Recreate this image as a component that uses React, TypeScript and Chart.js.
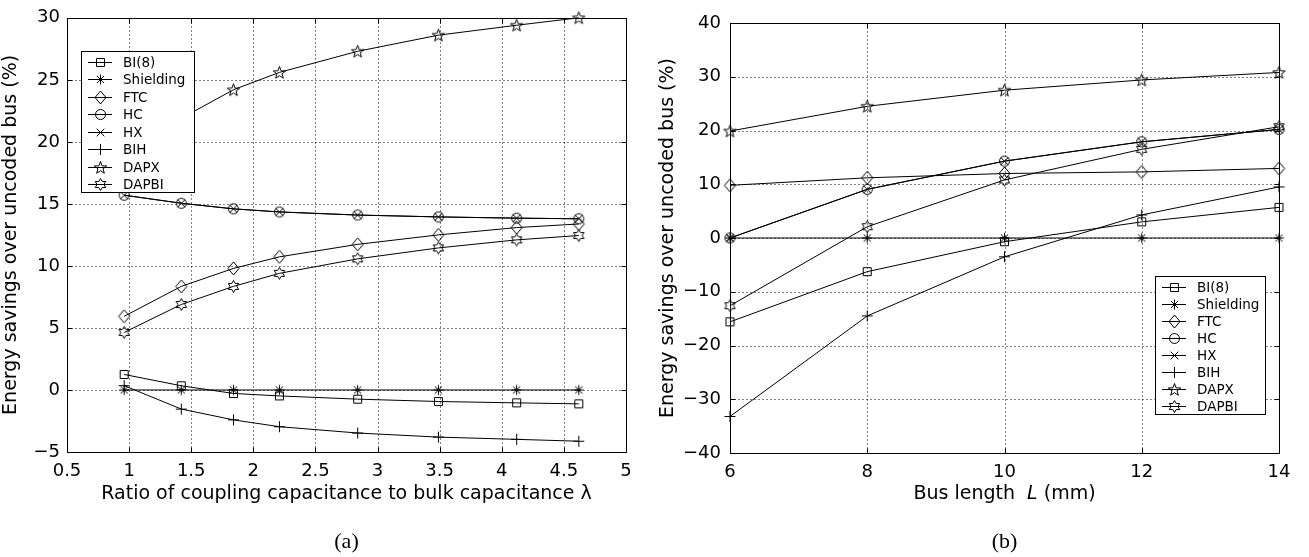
import React, { useEffect, useRef } from 'react';
import { Chart, registerables } from 'chart.js';

Chart.register(...registerables);

// ---------- DATA ----------
// (a) energy savings vs. coupling ratio lambda
const lambdaX = [0.96, 1.42, 1.84, 2.21, 2.84, 3.49, 4.12, 4.62];
const aBI8 = [1.25, 0.34, -0.28, -0.48, -0.74, -0.93, -1.04, -1.12];
const aShielding = [0, 0, 0, 0, 0, 0, 0, 0];
const aFTC = [5.94, 8.35, 9.8, 10.73, 11.74, 12.5, 13.09, 13.38];
const aHC = [15.7, 15.05, 14.6, 14.35, 14.1, 13.95, 13.85, 13.8];
const aHX = [15.7, 15.05, 14.6, 14.35, 14.1, 13.95, 13.85, 13.8];
const aBIH = [0.35, -1.54, -2.41, -2.96, -3.47, -3.8, -3.98, -4.13];
const aDAPX = [17.5, 21.9, 24.2, 25.6, 27.3, 28.6, 29.4, 30.0];
const aDAPBI = [4.64, 6.89, 8.35, 9.4, 10.57, 11.45, 12.1, 12.45];
const aXTicks = [0.5, 1, 1.5, 2, 2.5, 3, 3.5, 4, 4.5, 5];
const aYTicks = [-5, 0, 5, 10, 15, 20, 25, 30];

// (b) energy savings vs. bus length L
const busL = [6, 8, 10, 12, 14];
const bBI8 = [-15.6, -6.26, -0.69, 3.0, 5.7];
const bShielding = [0, 0, 0, 0, 0];
const bFTC = [9.8, 11.2, 12.0, 12.3, 12.95];
const bHC = [0, 9.05, 14.3, 17.9, 20.2];
const bHX = [0, 9.05, 14.3, 17.9, 20.2];
const bBIH = [-33.2, -14.5, -3.5, 4.3, 9.5];
const bDAPX = [19.9, 24.5, 27.5, 29.4, 30.8];
const bDAPBI = [-12.6, 2.1, 10.8, 16.5, 20.7];
const bXTicks = [6, 8, 10, 12, 14];
const bYTicks = [-40, -30, -20, -10, 0, 10, 20, 30, 40];

const seriesNames = ['BI(8)', 'Shielding', 'FTC', 'HC', 'HX', 'BIH', 'DAPX', 'DAPBI'];
const markerKinds = ['square', 'asterisk', 'diamond', 'circle', 'xmark', 'plus', 'pentagram', 'hexagram'];

const FONT = '"DejaVu Sans", "Liberation Sans", sans-serif';
const YTITLE = 'Energy savings over uncoded bus (%)';

// ---------- MARKERS ----------
function makeMarker(kind: string): HTMLCanvasElement {
  const s = 17;
  const c = document.createElement('canvas');
  c.width = s;
  c.height = s;
  const ctx = c.getContext('2d')!;
  ctx.strokeStyle = '#000';
  ctx.lineWidth = 1;
  const m = s / 2;
  ctx.beginPath();
  switch (kind) {
    case 'square':
      ctx.rect(m - 4, m - 4, 8, 8);
      break;
    case 'asterisk':
      ctx.moveTo(m, m - 5); ctx.lineTo(m, m + 5);
      ctx.moveTo(m - 5, m); ctx.lineTo(m + 5, m);
      ctx.moveTo(m - 3.6, m - 3.6); ctx.lineTo(m + 3.6, m + 3.6);
      ctx.moveTo(m - 3.6, m + 3.6); ctx.lineTo(m + 3.6, m - 3.6);
      break;
    case 'diamond':
      ctx.moveTo(m, m - 6.5); ctx.lineTo(m + 5.5, m); ctx.lineTo(m, m + 6.5); ctx.lineTo(m - 5.5, m); ctx.closePath();
      break;
    case 'circle':
      ctx.arc(m, m, 5, 0, Math.PI * 2);
      break;
    case 'xmark':
      ctx.moveTo(m - 3.8, m - 3.8); ctx.lineTo(m + 3.8, m + 3.8);
      ctx.moveTo(m - 3.8, m + 3.8); ctx.lineTo(m + 3.8, m - 3.8);
      break;
    case 'plus':
      ctx.moveTo(m, m - 5.5); ctx.lineTo(m, m + 5.5);
      ctx.moveTo(m - 5.5, m); ctx.lineTo(m + 5.5, m);
      break;
    case 'pentagram': {
      const R = 6.5, r = 2.7;
      for (let i = 0; i < 10; i++) {
        const a = -Math.PI / 2 + (i * Math.PI) / 5;
        const rr = i % 2 === 0 ? R : r;
        const px = m + rr * Math.cos(a), py = m + 0.5 + rr * Math.sin(a);
        if (i === 0) ctx.moveTo(px, py); else ctx.lineTo(px, py);
      }
      ctx.closePath();
      break;
    }
    case 'hexagram': {
      const R = 6, r = 6 / Math.sqrt(3);
      for (let i = 0; i < 12; i++) {
        const a = -Math.PI / 2 + (i * Math.PI) / 6;
        const rr = i % 2 === 0 ? R : r;
        const px = m + rr * Math.cos(a), py = m + rr * Math.sin(a);
        if (i === 0) ctx.moveTo(px, py); else ctx.lineTo(px, py);
      }
      ctx.closePath();
      break;
    }
  }
  ctx.stroke();
  return c;
}

const fmt = (v: number) => String(v).replace('-', '\u2212');

// ---------- PLUGIN ----------
const paperPlugin = {
  id: 'paper',
  beforeDatasetsDraw(chart: any, _args: any, opts: any) {
    const { ctx, chartArea } = chart;
    const L = Math.round(chartArea.left) + 0.5;
    const R = Math.round(chartArea.right) + 0.5;
    const T = Math.round(chartArea.top) + 0.5;
    const B = Math.round(chartArea.bottom) + 0.5;
    const xs = chart.scales.x;
    const ys = chart.scales.y;
    ctx.save();
    ctx.strokeStyle = '#000';
    ctx.lineWidth = 1;
    // dotted grid
    ctx.setLineDash([1, 3]);
    ctx.beginPath();
    for (const t of xs.ticks) {
      const px = Math.round(xs.getPixelForValue(t.value)) + 0.5;
      if (px <= L + 1 || px >= R - 1) continue;
      ctx.moveTo(px, T); ctx.lineTo(px, B);
    }
    for (const t of ys.ticks) {
      const py = Math.round(ys.getPixelForValue(t.value)) + 0.5;
      if (py <= T + 1 || py >= B - 1) continue;
      ctx.moveTo(L, py); ctx.lineTo(R, py);
    }
    ctx.stroke();
    ctx.setLineDash([]);
    // inner ticks
    ctx.beginPath();
    const tl = 5;
    for (const t of xs.ticks) {
      const px = Math.round(xs.getPixelForValue(t.value)) + 0.5;
      ctx.moveTo(px, B); ctx.lineTo(px, B - tl);
      ctx.moveTo(px, T); ctx.lineTo(px, T + tl);
    }
    for (const t of ys.ticks) {
      const py = Math.round(ys.getPixelForValue(t.value)) + 0.5;
      ctx.moveTo(L, py); ctx.lineTo(L + tl, py);
      ctx.moveTo(R, py); ctx.lineTo(R - tl, py);
    }
    ctx.stroke();
    ctx.strokeRect(L, T, R - L, B - T);
    ctx.restore();
  },
  afterDraw(chart: any, _args: any, opts: any) {
    const { ctx, chartArea } = chart;
    ctx.save();
    // legend
    const lg = opts.legend;
    ctx.fillStyle = '#fff';
    ctx.fillRect(lg.x, lg.y, lg.w, lg.h);
    ctx.strokeStyle = '#000';
    ctx.lineWidth = 1;
    ctx.strokeRect(lg.x + 0.5, lg.y + 0.5, lg.w, lg.h);
    ctx.font = `13.5px ${FONT}`;
    ctx.fillStyle = '#000';
    ctx.textAlign = 'left';
    ctx.textBaseline = 'middle';
    seriesNames.forEach((name, i) => {
      const cy = Math.round(lg.y + lg.first + i * lg.step) + 0.5;
      ctx.beginPath();
      ctx.moveTo(lg.x + 7, cy);
      ctx.lineTo(lg.x + 31, cy);
      ctx.stroke();
      const mk = opts.markers[i];
      ctx.drawImage(mk, lg.x + 19.5 - mk.width / 2, cy - mk.height / 2);
      ctx.fillText(name, lg.x + 42, cy + 0.5);
    });
    // x axis title
    const cx = (chartArea.left + chartArea.right) / 2;
    ctx.textBaseline = 'middle';
    const parts: { t: string; italic?: boolean }[] = opts.xTitle;
    const fontN = `19px ${FONT}`;
    const fontI = `italic 19px ${FONT}`;
    let total = 0;
    for (const p of parts) {
      ctx.font = p.italic ? fontI : fontN;
      total += ctx.measureText(p.t).width;
    }
    let x = cx - total / 2;
    ctx.textAlign = 'left';
    for (const p of parts) {
      ctx.font = p.italic ? fontI : fontN;
      ctx.fillText(p.t, x, opts.xTitleY);
      x += ctx.measureText(p.t).width;
    }
    // caption
    ctx.font = '22px "Liberation Serif", serif';
    ctx.textAlign = 'center';
    ctx.fillText(opts.caption, cx, opts.captionY);
    ctx.restore();
  },
};

function buildDatasets(xs: number[], series: number[][], markers: HTMLCanvasElement[]) {
  return series.map((ys, i) => ({
    label: seriesNames[i],
    data: xs.map((x, k) => ({ x, y: ys[k] })),
    borderColor: '#000',
    borderWidth: 1,
    pointStyle: markers[i],
    pointRadius: 5,
    pointHoverRadius: 5,
    tension: 0,
    fill: false,
    clip: false as any,
  }));
}

function makeConfig(p: {
  xs: number[]; series: number[][]; xTicks: number[]; yTicks: number[];
  xMin: number; xMax: number; yMin: number; yMax: number;
  padding: any; yWidth: number; xHeight: number; yTitlePad: number; yTickPad: number;
  legend: any; xTitle: any; caption: string;
}) {
  const markers = markerKinds.map(makeMarker);
  return {
    type: 'line' as const,
    data: { datasets: buildDatasets(p.xs, p.series, markers) },
    plugins: [paperPlugin],
    options: {
      animation: false as const,
      responsive: false,
      maintainAspectRatio: false,
      layout: { padding: p.padding },
      plugins: {
        legend: { display: false },
        tooltip: { enabled: false },
        paper: { legend: p.legend, markers, xTitle: p.xTitle, xTitleY: 494, caption: p.caption, captionY: 542 },
      },
      scales: {
        x: {
          type: 'linear' as const,
          min: p.xMin,
          max: p.xMax,
          grid: { display: false, drawTicks: false },
          border: { display: false },
          afterBuildTicks: (s: any) => { s.ticks = p.xTicks.map((v) => ({ value: v })); },
          afterFit: (s: any) => { s.height = p.xHeight; },
          ticks: {
            autoSkip: false,
            maxRotation: 0,
            padding: 9,
            color: '#000',
            font: { family: FONT, size: 18 },
            callback: (v: any) => fmt(Number(v)),
          },
        },
        y: {
          type: 'linear' as const,
          min: p.yMin,
          max: p.yMax,
          grid: { display: false, drawTicks: false },
          border: { display: false },
          afterBuildTicks: (s: any) => { s.ticks = p.yTicks.map((v) => ({ value: v })); },
          afterFit: (s: any) => { s.width = p.yWidth; },
          ticks: {
            autoSkip: false,
            padding: p.yTickPad,
            color: '#000',
            font: { family: FONT, size: 18 },
            callback: (v: any) => fmt(Number(v)),
          },
          title: {
            display: true,
            text: YTITLE,
            color: '#000',
            font: { family: FONT, size: 19 },
            padding: { top: p.yTitlePad, bottom: 0 },
          },
        },
      },
    },
  };
}

function ChartCanvas({ config, width, height, left }: { config: () => any; width: number; height: number; left: number }) {
  const ref = useRef<HTMLCanvasElement | null>(null);
  useEffect(() => {
    if (!ref.current) return;
    const chart = new Chart(ref.current, config());
    return () => chart.destroy();
  }, []);
  return (
    <canvas
      ref={ref}
      width={width}
      height={height}
      style={{ position: 'absolute', left, top: 0, width, height }}
    />
  );
}

export default function App() {
  const cfgA = () =>
    makeConfig({
      xs: lambdaX,
      series: [aBI8, aShielding, aFTC, aHC, aHX, aBIH, aDAPX, aDAPBI],
      xTicks: aXTicks,
      yTicks: aYTicks,
      xMin: 0.5, xMax: 5, yMin: -5, yMax: 30,
      padding: { left: 0, top: 12, right: 24, bottom: 0 },
      yWidth: 67,
      xHeight: 105,
      yTitlePad: 0,
      yTickPad: 7,
      legend: { x: 81, y: 51, w: 113, h: 141, first: 10.5, step: 17.5 },
      xTitle: [{ t: 'Ratio of coupling capacitance to bulk capacitance \u03bb' }],
      caption: '(a)',
    });
  const cfgB = () =>
    makeConfig({
      xs: busL,
      series: [bBI8, bShielding, bFTC, bHC, bHX, bBIH, bDAPX, bDAPBI],
      xTicks: bXTicks,
      yTicks: bYTicks,
      xMin: 6, xMax: 14, yMin: -40, yMax: 40,
      padding: { left: 0, top: 23, right: 30, bottom: 0 },
      yWidth: 80,
      xHeight: 104,
      yTitlePad: 7,
      yTickPad: 9,
      legend: { x: 505, y: 276, w: 110, h: 138, first: 10.5, step: 17.1 },
      xTitle: [{ t: 'Bus length  ' }, { t: 'L', italic: true }, { t: ' (mm)' }],
      caption: '(b)',
    });
  return (
    <div style={{ position: 'absolute', left: 0, top: 0, width: 1309, height: 557, background: '#fff' }}>
      <ChartCanvas config={cfgA} width={650} height={557} left={0} />
      <ChartCanvas config={cfgB} width={659} height={557} left={650} />
    </div>
  );
}
